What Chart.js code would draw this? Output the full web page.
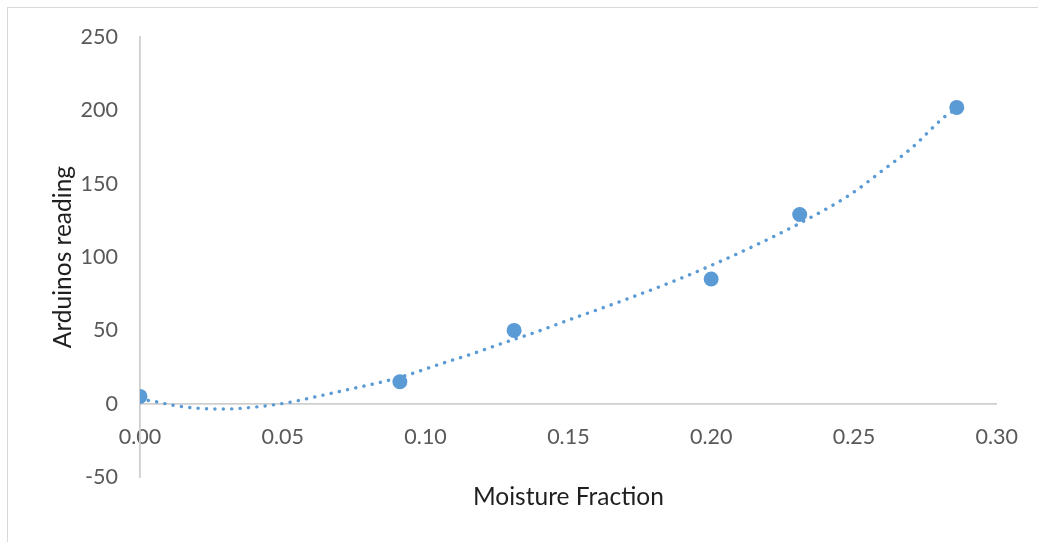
<!DOCTYPE html>
<html>
<head>
<meta charset="utf-8">
<script src="https://cdn.jsdelivr.net/npm/chart.js@4.4.1/dist/chart.umd.min.js"></script>
<style>
    html, body { margin: 0; padding: 0; background: #fff; overflow: hidden; }
    #frame {
        position: absolute; left: 7px; top: 7px; width: 1100px; height: 600px;
        border-left: 1.5px solid #d9d9d9; border-top: 1.5px solid #d9d9d9;
    }
    #wrap { position: absolute; left: 0; top: 0; width: 1038px; height: 542px; }
</style>
</head>
<body>
<div id="frame"></div>
<div id="wrap"><canvas id="myChart"></canvas></div>
<script>
// measured sensor readings
const moistureFraction = [0, 0.091, 0.131, 0.2, 0.231, 0.286];
const arduinoReading = [5, 15, 50, 85, 129, 202];

// dotted trend curve, sampled along the fitted line
const trendX = [0, 0.005, 0.012, 0.02, 0.029, 0.04, 0.051, 0.063, 0.074, 0.085, 0.094, 0.105, 0.116, 0.127, 0.138, 0.15, 0.17, 0.19, 0.21, 0.231, 0.249, 0.26, 0.27, 0.282, 0.286];
const trendY = [3, 1.6, -1.2, -3, -3.6, -2.3, 0.5, 5.4, 10.2, 15, 19.8, 27, 33.8, 41.3, 48.4, 57, 71, 86, 103, 123, 143, 159, 174, 196, 201];

// axis ticks
const xTicks = [0, 0.05, 0.10, 0.15, 0.20, 0.25, 0.30];
const yTicks = [-50, 0, 50, 100, 150, 200, 250];

const blue = '#5b9bd5';
const fontFamily = 'Lato, "Open Sans", sans-serif';

const points = moistureFraction.map((x, i) => ({x: x, y: arduinoReading[i]}));
const trend = trendX.map((x, i) => ({x: x, y: trendY[i]}));

function createChart() {
    const ctx = document.getElementById('myChart').getContext('2d');
    const chart = new Chart(ctx, {
        type: 'scatter',
        data: {
            datasets: [{
                label: 'Trend',
                data: trend,
                showLine: true,
                pointRadius: 0,
                borderColor: blue,
                borderWidth: 3.4,
                borderDash: [0.1, 8.3],
                borderCapStyle: 'round',
                cubicInterpolationMode: 'monotone',
                order: 0
            }, {
                label: 'Readings',
                data: points,
                pointRadius: 7.5,
                pointBackgroundColor: blue,
                pointBorderColor: blue,
                pointBorderWidth: 0,
                order: 1
            }]
        },
        options: {
            responsive: true,
            maintainAspectRatio: false,
            animation: false,
            layout: {
                padding: {top: 37, right: 41, bottom: 25, left: 42}
            },
            plugins: {
                legend: {display: false},
                tooltip: {enabled: false},
                title: {
                    display: true,
                    position: 'bottom',
                    fullSize: false,
                    text: 'Moisture Fraction',
                    color: '#1f1f1f',
                    font: {family: fontFamily, size: 24.5, weight: 'normal'},
                    padding: {top: 5.5, bottom: 5}
                }
            },
            scales: {
                x: {
                    type: 'linear',
                    position: {y: 0},
                    min: 0,
                    max: 0.3,
                    afterBuildTicks: axis => { axis.ticks = xTicks.map(v => ({value: v})); },
                    grid: {display: false, drawTicks: false},
                    border: {display: true, color: '#cfcfcf', width: 1.8},
                    ticks: {
                        color: '#595959',
                        font: {family: fontFamily, size: 21.5},
                        padding: 20,
                        maxRotation: 0,
                        callback: v => v.toFixed(2)
                    }
                },
                y: {
                    type: 'linear',
                    position: 'left',
                    min: -50,
                    max: 250,
                    afterBuildTicks: axis => { axis.ticks = yTicks.map(v => ({value: v})); },
                    afterFit: axis => { axis.width = 98; },
                    grid: {display: false, drawTicks: false},
                    border: {display: true, color: '#cfcfcf', width: 1.8},
                    ticks: {
                        color: '#595959',
                        font: {family: fontFamily, size: 21.5},
                        padding: 22
                    },
                    title: {
                        display: true,
                        text: 'Arduinos reading',
                        color: '#1f1f1f',
                        font: {family: fontFamily, size: 24.5},
                        padding: {top: 6, bottom: 0}
                    }
                }
            }
        }
    });
    return chart;
}

createChart();
</script>
</body>
</html>
